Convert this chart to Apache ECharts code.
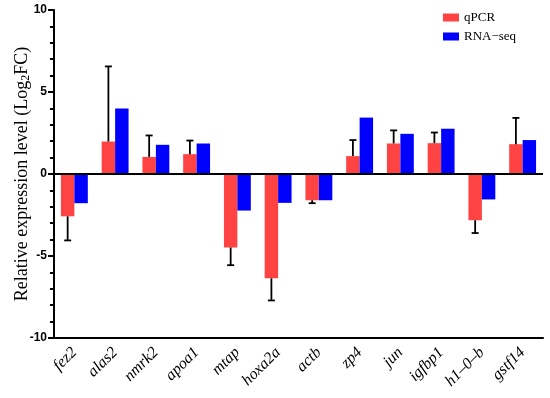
<!DOCTYPE html>
<html>
<head>
<meta charset="utf-8">
<script src="https://cdn.jsdelivr.net/npm/echarts@6/dist/echarts.min.js"></script>
<style>html,body{margin:0;padding:0;background:#fff;}#c{width:550px;height:398px;}</style>
</head>
<body>
<div id="c"></div>
<script>
const genes = ['fez2','alas2','nmrk2','apoa1','mtap','hoxa2a','actb','zp4','jun','igfbp1','h1–0–b','gstf14'];
const qpcr = [-2.58, 1.98, 1.04, 1.21, -4.48, -6.36, -1.60, 1.09, 1.86, 1.88, -2.82, 1.82];
const qpcrErrEnd = [-4.05, 6.56, 2.35, 2.04, -5.56, -7.71, -1.78, 2.07, 2.66, 2.53, -3.60, 3.42];
const rnaseq = [-1.78, 4.00, 1.78, 1.86, -2.23, -1.76, -1.60, 3.44, 2.45, 2.76, -1.55, 2.07];
const yTicks = [-10, -5, 0, 5, 10];

const RED = '#FF4343', BLUE = '#0000FF';
const BW = 0.33;
const errData = genes.map((g, i) => [i, qpcr[i], qpcrErrEnd[i]]);

const chart = echarts.init(document.getElementById('c'));
chart.setOption({
  animation: false,
  backgroundColor: '#fff',
  grid: {left: 54, right: 7, top: 10, bottom: 60, containLabel: false, outerBoundsMode: 'none'},
  legend: {
    data: ['qPCR', 'RNA−seq'],
    orient: 'vertical',
    left: 438, top: 6,
    itemWidth: 16, itemHeight: 8, itemGap: 6,
    textStyle: {fontFamily: 'Liberation Serif', fontSize: 13, color: '#000'},
    icon: 'rect'
  },
  xAxis: {
    type: 'category',
    data: genes,
    position: 'bottom',
    axisLine: {onZero: false, lineStyle: {color: '#000', width: 2}},
    axisTick: {alignWithLabel: true, length: 5, lineStyle: {color: '#000', width: 2}},
    axisLabel: {rotate: 45, margin: 12, fontFamily: 'Liberation Serif', fontStyle: 'italic', fontSize: 16, color: '#000', interval: 0}
  },
  yAxis: {
    type: 'value',
    min: yTicks[0], max: yTicks[yTicks.length - 1], interval: 5,
    splitLine: {show: false},
    axisLine: {show: true, lineStyle: {color: '#000', width: 2}},
    axisTick: {show: true, length: 6, lineStyle: {color: '#000', width: 2}},
    minorTick: {show: true, splitNumber: 5, length: 4, lineStyle: {color: '#000', width: 2}},
    axisLabel: {fontFamily: 'Liberation Sans', fontWeight: 'bold', fontSize: 12, color: '#000', margin: 7},
    name: '{a|Relative expression level (Log}{s|2}{a|FC)}',
    nameLocation: 'middle',
    nameGap: 22,
    nameMoveOverlap: false,
    nameTextStyle: {
      rich: {
        a: {fontFamily: 'Liberation Serif', fontSize: 18, color: '#000'},
        s: {fontFamily: 'Liberation Serif', fontSize: 12, color: '#000', verticalAlign: 'bottom', padding: [7, 0, 0, 0]}
      }
    }
  },
  series: [
    {
      name: 'qPCR', type: 'bar', data: qpcr, barWidth: (BW * 100) + '%', barGap: '0%',
      itemStyle: {color: RED},
      markLine: {
        silent: true, symbol: 'none', label: {show: false},
        lineStyle: {color: '#000', width: 2, type: 'solid'},
        data: [{yAxis: 0}]
      }
    },
    {
      name: 'RNA−seq', type: 'bar', data: rnaseq, barWidth: (BW * 100) + '%', barGap: '0%',
      itemStyle: {color: BLUE}
    },
    {
      name: 'err', type: 'custom', data: errData,
      encode: {x: 0, y: [1, 2]},
      z: 5,
      renderItem: function (params, api) {
        const i = api.value(0);
        const p0 = api.coord([i, api.value(1)]);
        const p1 = api.coord([i, api.value(2)]);
        const band = api.size([1, 0])[0];
        const x = p0[0] - band * BW / 2;
        const cap = 3.5;
        const st = {stroke: '#000', lineWidth: 1.8};
        return {
          type: 'group',
          children: [
            {type: 'line', shape: {x1: x, y1: p0[1], x2: x, y2: p1[1]}, style: st},
            {type: 'line', shape: {x1: x - cap, y1: p1[1], x2: x + cap, y2: p1[1]}, style: st}
          ]
        };
      }
    }
  ]
});
</script>
</body>
</html>
